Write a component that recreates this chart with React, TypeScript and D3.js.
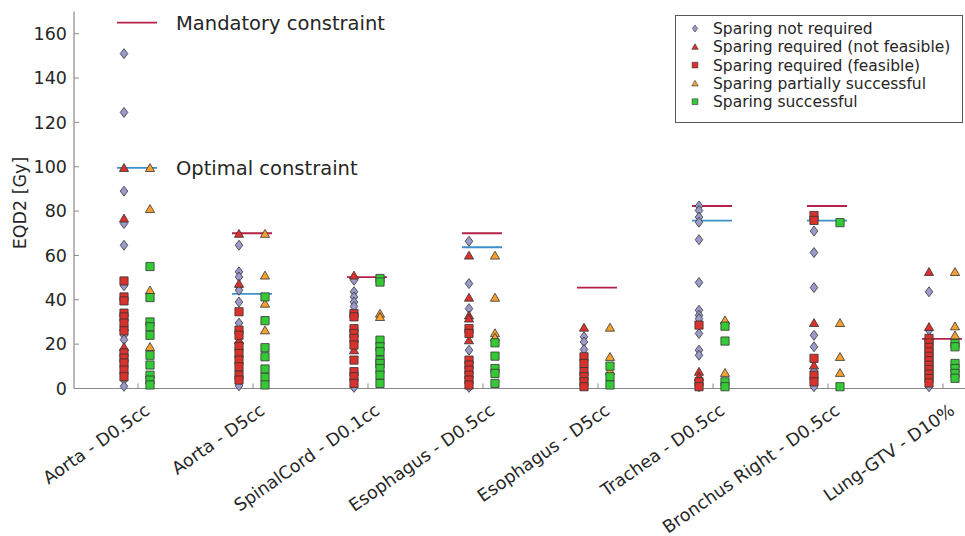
import React from "react";
import * as d3 from "d3";

// Structure / dose-metric categories along the x axis
const categories = [
  "Aorta - D0.5cc",
  "Aorta - D5cc",
  "SpinalCord - D0.1cc",
  "Esophagus - D0.5cc",
  "Esophagus - D5cc",
  "Trachea - D0.5cc",
  "Bronchus Right - D0.5cc",
  "Lung-GTV - D10%",
];

// EQD2 values [Gy] per category, one array per plan outcome
const notRequired = [
  [151, 124.5, 89, 74.4, 64.6, 46.3, 33, 30.5, 24, 22, 3.8, 1],
  [64.6, 52.6, 50.3, 45.8, 44.3, 39, 29.5, 1.2],
  [48.8, 43.6, 41.3, 39, 37, 0.5],
  [66.4, 47.3, 36, 17.3, 0.5],
  [23.3, 21, 17.6],
  [82.3, 80.3, 77.3, 75, 67.1, 47.8, 35.3, 33, 31.5, 24.8, 17.3, 15, 0.8],
  [71, 61.3, 45.5, 24, 18.8, 8, 0.8],
  [43.6, 26.3, 0.8],
];
const notFeasible = [
  [99.5, 76.7, 27.8, 18.8],
  [69.8, 47.3, 21.8],
  [51, 17.3],
  [60, 41, 33, 31.6, 21.8],
  [27.5],
  [7.6, 5.3],
  [29.6, 10.5],
  [52.6, 27.8],
];
const feasible = [
  [48.5, 41.3, 39.5, 34, 32.3, 29.5, 26, 16, 13.7, 11.5, 8.3, 5.3],
  [34.6, 26.3, 24, 19, 15.8, 12.8, 9.8, 6, 3.8],
  [33.8, 32.3, 27, 24.8, 22.6, 19.6, 12.8, 7.6, 5.3, 2.3],
  [27, 24.8, 12.8, 10.6, 8.3, 6, 3.8, 1.6],
  [14.3, 11.3, 7.6, 5.3, 3, 0.8],
  [28.6, 3, 0.8],
  [78, 75.8, 13.6, 6, 3],
  [22.6, 20.5, 18.5, 16.5, 14.5, 12.5, 10.5, 8.5, 6.5, 4.5, 2.5],
];
const partial = [
  [99.5, 81, 44.3, 18.8],
  [69.8, 51, 38.3, 26.3],
  [33.8, 32.3],
  [60, 41, 25, 23],
  [27.5, 14.3, 8],
  [30.8, 7.1],
  [29.6, 14.3, 7.1],
  [52.6, 28.1, 24],
];
const successful = [
  [55, 41, 30, 27.8, 24, 15, 10.6, 6, 3.8, 1.6],
  [41.3, 30.6, 18.4, 14.3, 8.8, 5, 1.6],
  [49.6, 48, 21.8, 18.8, 16.6, 12.8, 11.3, 9, 6, 2.3],
  [20.6, 14.6, 9, 6.8, 2.3],
  [10.1, 5.3, 1.6],
  [28.1, 21.4, 3, 0.8],
  [74.8, 0.8],
  [20.3, 18.8, 11.3, 9, 6.8, 4.6],
];

// Dose constraints per category (null = none)
const mandatory: (number | null)[] = [165, 70, 50.2, 70, 45.5, 82.3, 82.3, 22.4];
const optimal: (number | null)[] = [99.5, 42.7, null, 63.7, null, 75.7, 75.7, null];

const yTicks = [0, 20, 40, 60, 80, 100, 120, 140, 160];

const legendLabels = [
  "Sparing not required",
  "Sparing required (not feasible)",
  "Sparing required (feasible)",
  "Sparing partially successful",
  "Sparing successful",
];

const COL = {
  text: "#262626",
  axis: "#8a8a8a",
  diamond: "#9a9acb",
  red: "#d9312c",
  orange: "#f7a030",
  green: "#35c935",
  stroke: "#333333",
  mandatory: "#b52148",
  optimal: "#3f8fc9",
};

type Shape = "diamond" | "triangle" | "square";

function shapePath(shape: Shape, s: number): string {
  const p = d3.path();
  if (shape === "diamond") {
    const w = 3.8 * s, h = 5.0 * s;
    p.moveTo(0, -h); p.lineTo(w, 0); p.lineTo(0, h); p.lineTo(-w, 0); p.closePath();
  } else if (shape === "triangle") {
    const w = 4.6 * s, h = 4.3 * s;
    p.moveTo(0, -h); p.lineTo(w, h * 0.85); p.lineTo(-w, h * 0.85); p.closePath();
  } else {
    const a = 4.1 * s;
    p.rect(-a, -a, 2 * a, 2 * a);
  }
  return p.toString();
}

const W = 965;
const H = 536;
const x = d3.scaleLinear().domain([1, 8]).range([138, 943]);
const y = d3.scaleLinear().domain([0, 170]).range([388.5, 11.5]);
const leftOff = -14;
const rightOff = 12;

const seriesDefs: { data: number[][]; shape: Shape; fill: string; off: number }[] = [
  { data: notRequired, shape: "diamond", fill: COL.diamond, off: leftOff },
  { data: notFeasible, shape: "triangle", fill: COL.red, off: leftOff },
  { data: feasible, shape: "square", fill: COL.red, off: leftOff },
  { data: partial, shape: "triangle", fill: COL.orange, off: rightOff },
  { data: successful, shape: "square", fill: COL.green, off: rightOff },
];

export default function App() {
  const x0 = 74;
  const xEnd = 965;
  const font = "'DejaVu Sans', Verdana, sans-serif";
  return (
    <svg
      width={W}
      height={H}
      viewBox={`0 0 ${W} ${H}`}
      style={{ position: "absolute", left: 0, top: 0, background: "#fff" }}
      fontFamily={font}
    >
      {/* axes */}
      <line x1={x0} x2={x0} y1={y(170)} y2={y(0)} stroke={COL.axis} strokeWidth={1.2} />
      <line x1={x0} x2={xEnd} y1={y(0)} y2={y(0)} stroke={COL.axis} strokeWidth={1.2} />
      {yTicks.map((t) => (
        <g key={"yt" + t}>
          <line x1={x0} x2={x0 + 5} y1={y(t)} y2={y(t)} stroke={COL.axis} strokeWidth={1} />
          <text x={x0 - 7} y={y(t)} dy="0.36em" textAnchor="end" fontSize={17.5} fill={COL.text}>
            {t}
          </text>
        </g>
      ))}
      {categories.map((c, i) => (
        <g key={"xt" + i}>
          <line x1={x(i + 1)} x2={x(i + 1)} y1={y(0)} y2={y(0) - 5} stroke={COL.axis} strokeWidth={1} />
          <text
            transform={`translate(${x(i + 1) + 13},${413}) rotate(-35)`}
            textAnchor="end"
            fontSize={17.5}
            fill={COL.text}
          >
            {c}
          </text>
        </g>
      ))}
      <text
        transform={`translate(26,${203}) rotate(-90)`}
        textAnchor="middle"
        fontSize={17.5}
        fill={COL.text}
      >
        EQD2 [Gy]
      </text>

      {/* constraint segments */}
      {mandatory.map((v, i) =>
        v == null ? null : (
          <line key={"m" + i} x1={x(i + 1) - 21} x2={x(i + 1) + 19} y1={y(v)} y2={y(v)}
            stroke={COL.mandatory} strokeWidth={1.8} />
        )
      )}
      {optimal.map((v, i) =>
        v == null ? null : (
          <line key={"o" + i} x1={x(i + 1) - 21} x2={x(i + 1) + 19} y1={y(v)} y2={y(v)}
            stroke={COL.optimal} strokeWidth={1.8} />
        )
      )}

      {/* data markers */}
      {seriesDefs.map((s, si) => (
        <g key={"s" + si}>
          {s.data.map((vals, ci) =>
            vals.map((v, k) => (
              <path
                key={ci + "-" + k}
                d={shapePath(s.shape, 1)}
                transform={`translate(${x(ci + 1) + s.off},${y(v)})`}
                fill={s.fill}
                stroke={COL.stroke}
                strokeWidth={0.8}
              />
            ))
          )}
        </g>
      ))}

      {/* constraint annotations */}
      <text x={176} y={y(mandatory[0] as number)} dy="0.36em" fontSize={19.5} fill={COL.text}>
        Mandatory constraint
      </text>
      <text x={176} y={y(optimal[0] as number)} dy="0.36em" fontSize={19.5} fill={COL.text}>
        Optimal constraint
      </text>

      {/* legend */}
      <g>
        <rect x={675.5} y={15.5} width={287} height={107} fill="#fff" stroke="#555" strokeWidth={1} />
        {seriesDefs.map((s, i) => (
          <g key={"lg" + i} transform={`translate(0,${28.5 + i * 18.3})`}>
            <path d={shapePath(s.shape, 0.7)} transform="translate(695,0)" fill={s.fill}
              stroke={COL.stroke} strokeWidth={0.6} />
            <text x={713} y={0} dy="0.36em" fontSize={15.5} fill={COL.text}>
              {legendLabels[i]}
            </text>
          </g>
        ))}
      </g>
    </svg>
  );
}
